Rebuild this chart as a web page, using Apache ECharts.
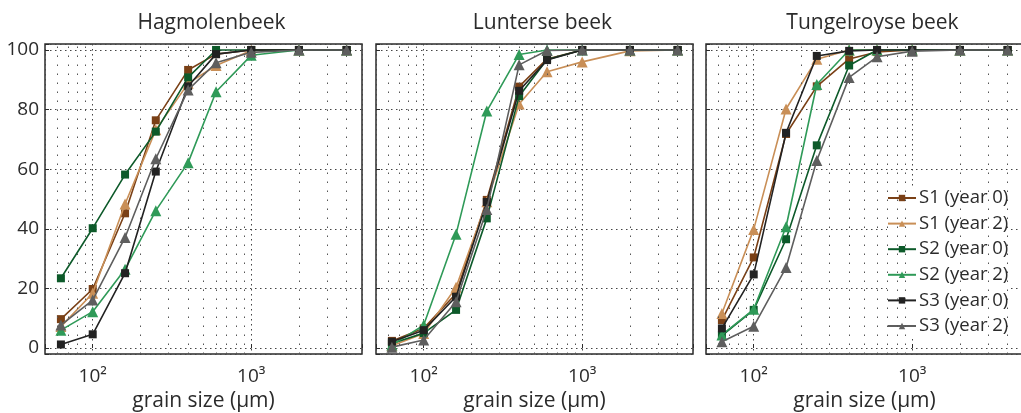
<!DOCTYPE html>
<html>
<head>
<meta charset="utf-8">
<script src="https://cdn.jsdelivr.net/npm/echarts@6/dist/echarts.min.js"></script>
<style>
  html, body { margin: 0; padding: 0; background: #fff; }
  #chart { width: 1021px; height: 413px; }
</style>
</head>
<body>
<div id="chart"></div>
<script>
// grain sizes (µm) at which the fractions were measured
const sizes = [63, 100, 160, 250, 400, 600, 1000, 2000, 4000];

// cumulative fraction (%) per site / sample
const hagS1y0 = [9.7, 19.8, 45.2, 76.4, 93.3, 98.6, 100, 100, 100];
const hagS1y2 = [7.2, 18.4, 48.3, 73.2, 88.8, 94.8, 99.8, 100, 100];
const hagS2y0 = [23.4, 40.2, 58.2, 72.6, 90.8, 100, 100, 100, 100];
const hagS2y2 = [6.0, 12.2, 26.4, 46.1, 62.2, 86.0, 98.2, 100, 100];
const hagS3y0 = [1.2, 4.6, 25.1, 59.2, 87.8, 98.6, 100, 100, 100];
const hagS3y2 = [7.7, 16.1, 37.1, 63.5, 86.6, 95.7, 99.2, 100, 100];

const lunS1y0 = [2.4, 6.6, 18.3, 49.7, 87.7, 97.0, 100, 100, 100];
const lunS1y2 = [0.8, 4.9, 20.4, 49.1, 81.9, 92.7, 96.0, 99.7, 100];
const lunS2y0 = [1.5, 5.0, 12.8, 43.5, 84.5, 96.8, 100, 100, 100];
const lunS2y2 = [1.0, 7.7, 38.2, 79.5, 98.5, 100, 100, 100, 100];
const lunS3y0 = [2.1, 6.0, 17.2, 49.0, 86.3, 96.6, 100, 100, 100];
const lunS3y2 = [0.3, 2.7, 15.5, 46.5, 95.0, 99.8, 100, 100, 100];

const tunS1y0 = [9.4, 30.4, 71.8, 87.8, 97.0, 99.3, 100, 100, 100];
const tunS1y2 = [11.6, 39.8, 80.2, 96.9, 100, 100, 100, 100, 100];
const tunS2y0 = [4.2, 12.8, 36.5, 68.0, 94.8, 100, 100, 100, 100];
const tunS2y2 = [4.4, 13.0, 40.7, 88.4, 100, 100, 100, 100, 100];
const tunS3y0 = [6.6, 24.7, 72.2, 98.0, 99.7, 100, 100, 100, 100];
const tunS3y2 = [2.1, 7.3, 27.0, 62.9, 90.8, 97.7, 99.6, 100, 100];

const panelTitles = ['Hagmolenbeek', 'Lunterse beek', 'Tungelroyse beek'];
const seriesNames = ['S1 (year 0)', 'S1 (year 2)', 'S2 (year 0)', 'S2 (year 2)', 'S3 (year 0)', 'S3 (year 2)'];
const yTicks = [0, 20, 40, 60, 80, 100];
const xMinorLines = [60, 70, 80, 90, 200, 300, 400, 500, 600, 700, 800, 900, 2000, 3000, 4000];

const panels = [
    [hagS1y0, hagS1y2, hagS2y0, hagS2y2, hagS3y0, hagS3y2],
    [lunS1y0, lunS1y2, lunS2y0, lunS2y2, lunS3y0, lunS3y2],
    [tunS1y0, tunS1y2, tunS2y0, tunS2y2, tunS3y0, tunS3y2]
];

const colors = ['#7a4016', '#c98f57', '#0d5a2a', '#2f9a58', '#222222', '#5e5e5e'];
const symbols = ['rect', 'triangle', 'rect', 'triangle', 'rect', 'triangle'];
const symbolSizes = [8, 11, 8, 11, 8, 11];

const FONT = '"Open Sans", "Noto Sans", sans-serif';
const gridLefts = [45, 376, 706];
const gridW = 317;

const grids = [], xAxes = [], yAxes = [], titles = [], series = [];

gridLefts.forEach((left, p) => {
    grids.push({
        left: left, top: 44, width: gridW, height: 310,
        outerBoundsMode: 'none',
        show: true, borderColor: '#2b2b2b', borderWidth: 1.5, backgroundColor: '#fff'
    });
    titles.push({
        text: panelTitles[p],
        left: left + gridW / 2 + 3,
        top: 8,
        textAlign: 'center',
        textStyle: { fontFamily: FONT, fontSize: 21, fontWeight: 'normal', color: '#2b2b2b' }
    });
    xAxes.push({
        type: 'log', gridIndex: p, min: 50, max: 5000, logBase: 10,
        name: 'grain size (µm)', nameLocation: 'middle', nameGap: 37,
        nameTextStyle: { fontFamily: FONT, fontSize: 21, color: '#2b2b2b' },
        axisLine: { show: false },
        axisTick: { show: true, inside: true, length: 4, lineStyle: { color: '#2b2b2b' } },
        axisLabel: {
            fontFamily: FONT, fontSize: 19, color: '#2b2b2b', margin: 13,
            formatter: function (v) {
                if (Math.abs(v - 100) < 1) return '10²';
                if (Math.abs(v - 1000) < 1) return '10³';
                return '';
            }
        },
        splitLine: { show: true, lineStyle: { color: '#444', width: 1, type: [1.5, 3.5] } }
    });
    yAxes.push({
        type: 'value', gridIndex: p, min: -2, max: 102,
        axisLine: { show: false },
        axisTick: { show: true, inside: true, length: 4, lineStyle: { color: '#2b2b2b' } },
        axisLabel: {
            show: p === 0, fontFamily: FONT, fontSize: 19, color: '#2b2b2b', margin: 6,
            formatter: function (v) { return yTicks.indexOf(v) >= 0 ? String(v) : ''; }
        },
        splitLine: { show: true, lineStyle: { color: '#444', width: 1, type: [1.5, 3.5] } }
    });
    panels[p].forEach((vals, i) => {
        const s = {
            name: seriesNames[i],
            type: 'line',
            xAxisIndex: p, yAxisIndex: p,
            data: sizes.map((x, k) => [x, vals[k]]),
            symbol: symbols[i],
            symbolSize: symbolSizes[i],
            showAllSymbol: true,
            color: colors[i],
            lineStyle: { width: 1.6, color: colors[i] },
            itemStyle: { color: colors[i] },
            emphasis: { disabled: true },
            animation: false,
            z: 3 + i
        };
        if (i === 0) {
            s.markLine = {
                silent: true, symbol: 'none', label: { show: false },
                lineStyle: { color: '#555', width: 1, type: [1.5, 7.5] },
                data: xMinorLines.map(v => ({ xAxis: v }))
            };
        }
        series.push(s);
    });
});

const option = {
    backgroundColor: '#fff',
    animation: false,
    title: titles,
    grid: grids,
    xAxis: xAxes,
    yAxis: yAxes,
    legend: {
        data: seriesNames,
        orient: 'vertical',
        left: 887,
        top: 188,
        itemWidth: 28,
        itemHeight: 8,
        itemGap: 5.6,
        textStyle: { fontFamily: FONT, fontSize: 18.5, color: '#2b2b2b', lineHeight: 20, padding: [0, 0, 0, -2] },
        backgroundColor: '#fff',
        padding: 0
    },
    series: series
};

var myChart = echarts.init(document.getElementById('chart'));
myChart.setOption(option);
</script>
</body>
</html>
